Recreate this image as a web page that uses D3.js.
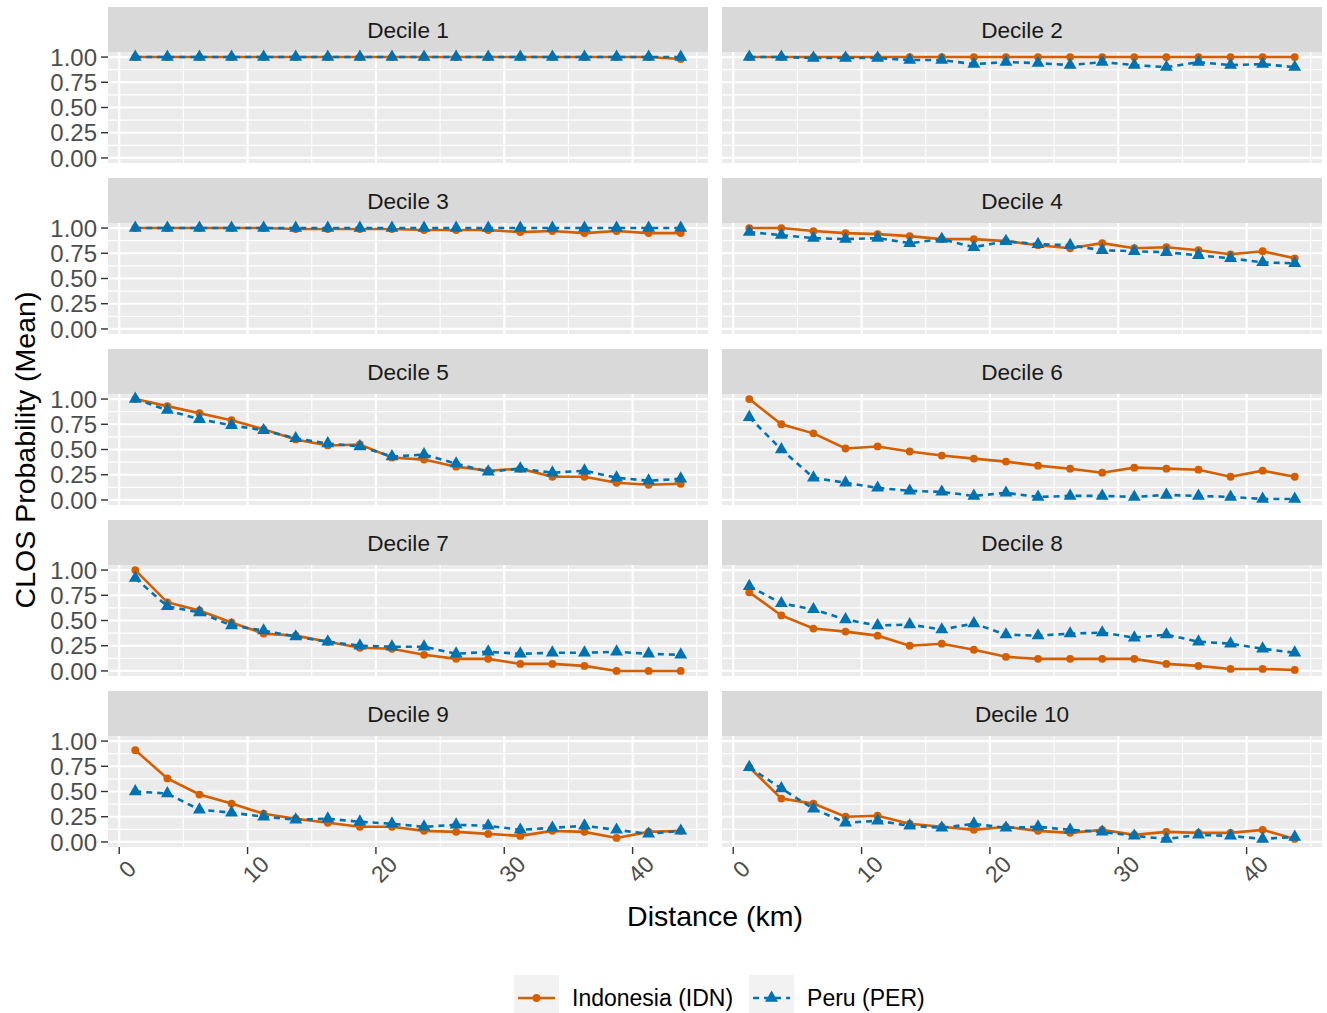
<!DOCTYPE html>
<html>
<head>
<meta charset="utf-8">
<script src="https://cdn.jsdelivr.net/npm/d3@7"></script>
<style>
  body { margin: 0; background: #fff; }
  text { font-family: "Liberation Sans", Arial, sans-serif; }
</style>
</head>
<body>
<div id="chart"></div>
<script>
// distance bins (km, bin midpoints)
const distanceKm = [1.25, 3.75, 6.25, 8.75, 11.25, 13.75, 16.25, 18.75, 21.25, 23.75,
                    26.25, 28.75, 31.25, 33.75, 36.25, 38.75, 41.25, 43.75];

const deciles = ["Decile 1", "Decile 2", "Decile 3", "Decile 4", "Decile 5",
                 "Decile 6", "Decile 7", "Decile 8", "Decile 9", "Decile 10"];

const countries = ["Indonesia (IDN)", "Peru (PER)"];

// Indonesia (IDN) mean CLOS probability per decile
const idnD1  = [1.00, 1.00, 1.00, 1.00, 1.00, 1.00, 1.00, 1.00, 1.00, 1.00, 1.00, 1.00, 1.00, 1.00, 1.00, 1.00, 1.00, 0.98];
const idnD2  = [1.00, 1.00, 1.00, 1.00, 1.00, 1.00, 1.00, 1.00, 1.00, 1.00, 1.00, 1.00, 1.00, 1.00, 1.00, 1.00, 1.00, 1.00];
const idnD3  = [1.00, 1.00, 1.00, 1.00, 1.00, 0.99, 0.99, 0.99, 0.99, 0.98, 0.98, 0.98, 0.96, 0.97, 0.95, 0.97, 0.95, 0.95];
const idnD4  = [1.00, 1.00, 0.97, 0.95, 0.94, 0.92, 0.89, 0.89, 0.87, 0.83, 0.80, 0.85, 0.80, 0.81, 0.78, 0.74, 0.77, 0.70];
const idnD5  = [1.00, 0.93, 0.86, 0.79, 0.70, 0.60, 0.54, 0.55, 0.42, 0.40, 0.33, 0.29, 0.31, 0.23, 0.23, 0.17, 0.15, 0.16];
const idnD6  = [1.00, 0.75, 0.66, 0.51, 0.53, 0.48, 0.44, 0.41, 0.38, 0.34, 0.31, 0.27, 0.32, 0.31, 0.30, 0.23, 0.29, 0.23];
const idnD7  = [1.00, 0.68, 0.60, 0.48, 0.37, 0.35, 0.29, 0.23, 0.22, 0.16, 0.12, 0.12, 0.07, 0.07, 0.05, 0.00, 0.00, 0.00];
const idnD8  = [0.78, 0.55, 0.42, 0.39, 0.35, 0.25, 0.27, 0.21, 0.14, 0.12, 0.12, 0.12, 0.12, 0.07, 0.05, 0.02, 0.02, 0.01];
const idnD9  = [0.91, 0.63, 0.47, 0.38, 0.28, 0.23, 0.19, 0.15, 0.15, 0.11, 0.10, 0.08, 0.06, 0.11, 0.10, 0.04, 0.10, 0.11];
const idnD10 = [0.74, 0.43, 0.38, 0.25, 0.26, 0.18, 0.15, 0.12, 0.15, 0.11, 0.09, 0.12, 0.07, 0.10, 0.09, 0.09, 0.12, 0.03];

// Peru (PER) mean CLOS probability per decile
const perD1  = [1.00, 1.00, 1.00, 1.00, 1.00, 1.00, 1.00, 1.00, 1.00, 1.00, 1.00, 1.00, 1.00, 1.00, 1.00, 1.00, 1.00, 1.00];
const perD2  = [1.00, 1.00, 0.99, 0.99, 0.99, 0.97, 0.97, 0.93, 0.95, 0.94, 0.92, 0.95, 0.92, 0.90, 0.95, 0.92, 0.93, 0.90];
const perD3  = [1.00, 1.00, 1.00, 1.00, 1.00, 1.00, 1.00, 1.00, 1.00, 1.00, 1.00, 1.00, 1.00, 1.00, 1.00, 1.00, 1.00, 1.00];
const perD4  = [0.96, 0.93, 0.90, 0.89, 0.90, 0.85, 0.89, 0.81, 0.87, 0.84, 0.83, 0.78, 0.77, 0.76, 0.73, 0.70, 0.66, 0.65];
const perD5  = [1.00, 0.89, 0.80, 0.74, 0.69, 0.61, 0.56, 0.53, 0.43, 0.45, 0.36, 0.28, 0.31, 0.27, 0.29, 0.22, 0.19, 0.21];
const perD6  = [0.82, 0.50, 0.22, 0.17, 0.12, 0.09, 0.08, 0.04, 0.07, 0.03, 0.04, 0.04, 0.03, 0.05, 0.04, 0.03, 0.01, 0.01];
const perD7  = [0.92, 0.64, 0.58, 0.45, 0.40, 0.34, 0.29, 0.25, 0.24, 0.24, 0.17, 0.19, 0.17, 0.18, 0.18, 0.19, 0.17, 0.16];
const perD8  = [0.84, 0.67, 0.61, 0.51, 0.45, 0.46, 0.41, 0.47, 0.36, 0.35, 0.37, 0.38, 0.33, 0.36, 0.29, 0.27, 0.22, 0.18];
const perD9  = [0.50, 0.48, 0.32, 0.29, 0.25, 0.22, 0.23, 0.20, 0.18, 0.15, 0.17, 0.16, 0.12, 0.14, 0.16, 0.12, 0.08, 0.11];
const perD10 = [0.74, 0.53, 0.33, 0.19, 0.21, 0.16, 0.14, 0.18, 0.14, 0.15, 0.12, 0.10, 0.06, 0.03, 0.07, 0.06, 0.03, 0.05];

const idnAll = [idnD1, idnD2, idnD3, idnD4, idnD5, idnD6, idnD7, idnD8, idnD9, idnD10];
const perAll = [perD1, perD2, perD3, perD4, perD5, perD6, perD7, perD8, perD9, perD10];

const xTicks = [0, 10, 20, 30, 40];
const yTicks = [0, 0.25, 0.5, 0.75, 1];

const colors = { "Indonesia (IDN)": "#D55E00", "Peru (PER)": "#0072B2" };

const width = 1327, height = 1013;
const colLeft = [108, 722];
const panelW = 600, panelH = 111, stripH = 45;
const rowTop0 = 7, rowStep = 171;

const svg = d3.select("#chart").append("svg")
  .attr("width", width)
  .attr("height", height);

const x = d3.scaleLinear().domain([-0.875, 45.875]).range([0, panelW]);
const y = d3.scaleLinear().domain([-0.05, 1.05]).range([panelH, 0]);

const line = d3.line()
  .x(d => x(d.x))
  .y(d => y(d.y));

const triangle = d3.symbol().type(d3.symbolTriangle).size(72);

deciles.forEach((name, i) => {
  const col = i % 2, row = Math.floor(i / 2);
  const left = colLeft[col];
  const top = rowTop0 + row * rowStep;

  // strip
  svg.append("rect")
    .attr("x", left).attr("y", top)
    .attr("width", panelW).attr("height", stripH)
    .attr("fill", "#D9D9D9");
  svg.append("text")
    .attr("x", left + panelW / 2).attr("y", top + stripH / 2)
    .attr("dy", "0.36em")
    .attr("text-anchor", "middle")
    .attr("font-size", 22.6)
    .attr("fill", "#1A1A1A")
    .text(name);

  const g = svg.append("g").attr("transform", `translate(${left},${top + stripH})`);

  g.append("rect")
    .attr("width", panelW).attr("height", panelH)
    .attr("fill", "#EBEBEB");

  // minor grid
  const xMinor = [5, 15, 25, 35, 45];
  const yMinor = [0.125, 0.375, 0.625, 0.875];
  g.selectAll(".xminor").data(xMinor).enter().append("line")
    .attr("x1", d => x(d)).attr("x2", d => x(d))
    .attr("y1", 0).attr("y2", panelH)
    .attr("stroke", "#fff").attr("stroke-width", 1.1);
  g.selectAll(".yminor").data(yMinor).enter().append("line")
    .attr("y1", d => y(d)).attr("y2", d => y(d))
    .attr("x1", 0).attr("x2", panelW)
    .attr("stroke", "#fff").attr("stroke-width", 1.1);

  // major grid
  g.selectAll(".xmajor").data(xTicks).enter().append("line")
    .attr("x1", d => x(d)).attr("x2", d => x(d))
    .attr("y1", 0).attr("y2", panelH)
    .attr("stroke", "#fff").attr("stroke-width", 2.2);
  g.selectAll(".ymajor").data(yTicks).enter().append("line")
    .attr("y1", d => y(d)).attr("y2", d => y(d))
    .attr("x1", 0).attr("x2", panelW)
    .attr("stroke", "#fff").attr("stroke-width", 2.2);

  // series
  const series = [
    { name: countries[0], values: idnAll[i], dash: null },
    { name: countries[1], values: perAll[i], dash: "6,5" }
  ];

  series.forEach(s => {
    const pts = distanceKm.map((d, j) => ({ x: d, y: s.values[j] }));
    g.append("path")
      .datum(pts)
      .attr("fill", "none")
      .attr("stroke", colors[s.name])
      .attr("stroke-width", 2.6)
      .attr("stroke-dasharray", s.dash)
      .attr("d", line);
    if (s.dash) {
      g.selectAll(null).data(pts).enter().append("path")
        .attr("d", triangle)
        .attr("transform", d => `translate(${x(d.x)},${y(d.y)})`)
        .attr("fill", colors[s.name]);
    } else {
      g.selectAll(null).data(pts).enter().append("circle")
        .attr("cx", d => x(d.x)).attr("cy", d => y(d.y))
        .attr("r", 3.9)
        .attr("fill", colors[s.name]);
    }
  });

  // y axis (left column only)
  if (col === 0) {
    yTicks.forEach(t => {
      g.append("line")
        .attr("x1", -7).attr("x2", 0)
        .attr("y1", y(t)).attr("y2", y(t))
        .attr("stroke", "#333").attr("stroke-width", 1.4);
      g.append("text")
        .attr("x", -11).attr("y", y(t))
        .attr("dy", "0.36em")
        .attr("text-anchor", "end")
        .attr("font-size", 24)
        .attr("fill", "#4D4D4D")
        .text(d3.format(".2f")(t));
    });
  }

  // x axis (bottom row only)
  if (row === 4) {
    xTicks.forEach(t => {
      g.append("line")
        .attr("x1", x(t)).attr("x2", x(t))
        .attr("y1", panelH).attr("y2", panelH + 7)
        .attr("stroke", "#333").attr("stroke-width", 1.4);
      const cx = x(t) + 8, cy = panelH + 22;
      g.append("text")
        .attr("x", cx).attr("y", cy)
        .attr("dy", "0.36em")
        .attr("text-anchor", "middle")
        .attr("font-size", 23)
        .attr("fill", "#4D4D4D")
        .attr("transform", `rotate(-45,${cx},${cy})`)
        .text(t);
    });
  }
});

// axis titles
svg.append("text")
  .attr("x", (colLeft[0] + colLeft[1] + panelW) / 2)
  .attr("y", 916)
  .attr("dy", "0.36em")
  .attr("text-anchor", "middle")
  .attr("font-size", 28.5)
  .attr("fill", "#000")
  .text("Distance (km)");

svg.append("text")
  .attr("transform", "translate(25,450) rotate(-90)")
  .attr("dy", "0.36em")
  .attr("text-anchor", "middle")
  .attr("font-size", 28.5)
  .attr("fill", "#000")
  .text("CLOS Probability (Mean)");

// legend
const legend = svg.append("g").attr("transform", "translate(514,975)");
let lx = 0;
countries.forEach((c, k) => {
  const item = legend.append("g").attr("transform", `translate(${lx},0)`);
  item.append("rect")
    .attr("width", 45).attr("height", 46)
    .attr("fill", "#F2F2F2");
  item.append("line")
    .attr("x1", 4).attr("x2", 41)
    .attr("y1", 23).attr("y2", 23)
    .attr("stroke", colors[c])
    .attr("stroke-width", 2.6)
    .attr("stroke-dasharray", k === 1 ? "6,5" : null);
  if (k === 1) {
    item.append("path")
      .attr("d", triangle)
      .attr("transform", "translate(22.5,23)")
      .attr("fill", colors[c]);
  } else {
    item.append("circle")
      .attr("cx", 22.5).attr("cy", 23).attr("r", 3.9)
      .attr("fill", colors[c]);
  }
  const t = item.append("text")
    .attr("x", 58).attr("y", 23)
    .attr("dy", "0.36em")
    .attr("font-size", 23)
    .attr("fill", "#000")
    .text(c);
  lx += 58 + t.node().getComputedTextLength() + 16;
});
</script>
</body>
</html>
